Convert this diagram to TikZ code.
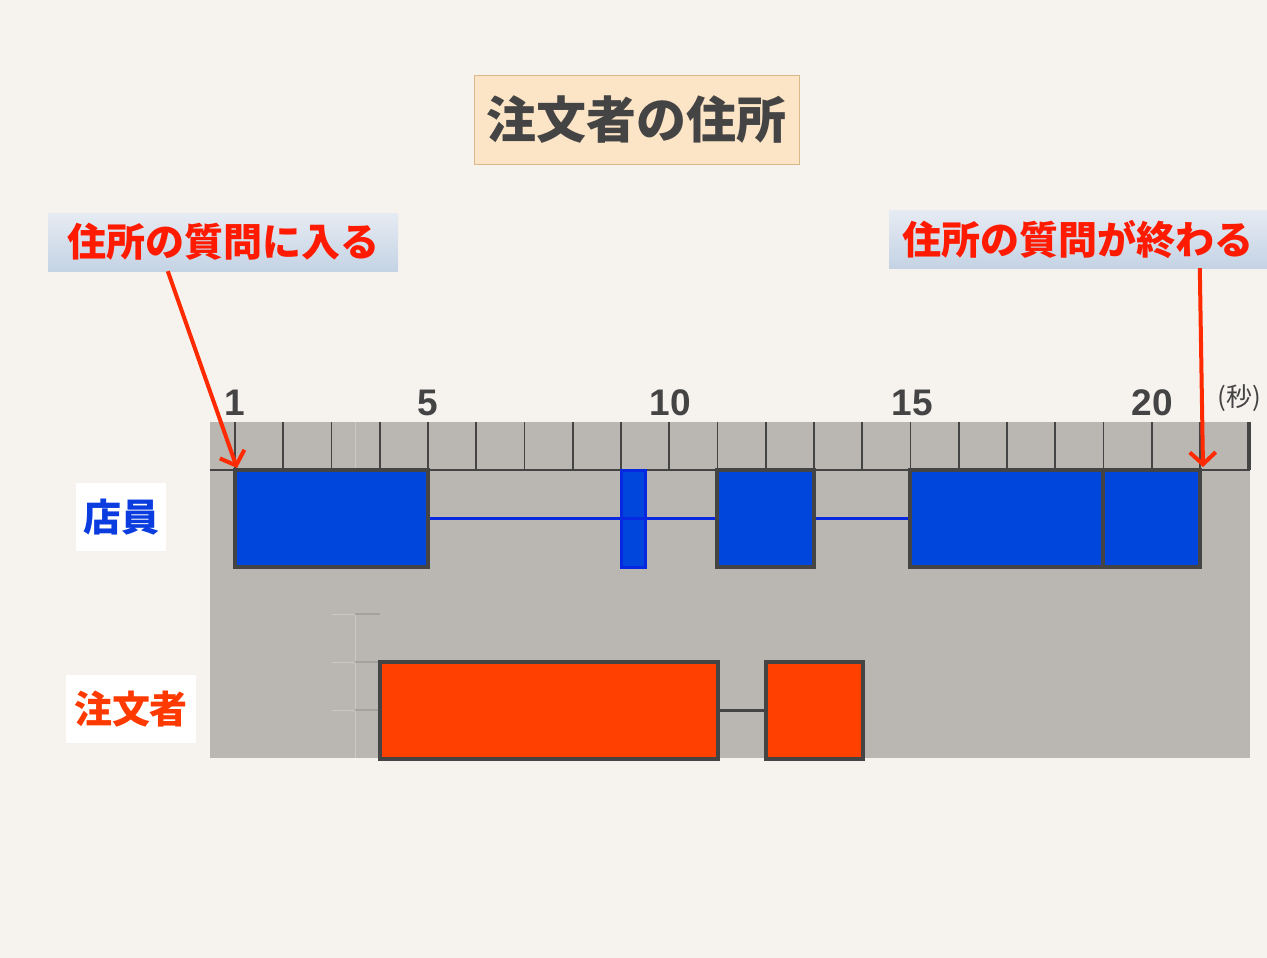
\documentclass[tikz,border=0pt]{standalone}
\usepackage{fontspec}
\newfontfamily\jp{Noto Sans CJK JP}
\newfontfamily\numfont{Liberation Sans}
\usetikzlibrary{arrows.meta}
\definecolor{bg}{HTML}{F6F3EE}
\definecolor{panel}{HTML}{BAB6B2}
\definecolor{dark}{HTML}{444444}
\definecolor{bluefill}{HTML}{0046DC}
\definecolor{blueline}{HTML}{0628E0}
\definecolor{orangefill}{HTML}{FF4000}
\definecolor{titlefill}{HTML}{FCE5C6}
\definecolor{titleedge}{HTML}{D9B98C}
\definecolor{calltop}{HTML}{E6EBF3}
\definecolor{callbot}{HTML}{C4D3E4}
\definecolor{callred}{HTML}{FF1A00}
\definecolor{arrowred}{HTML}{FF2A00}
\definecolor{staffblue}{HTML}{0A3CE0}
\definecolor{custred}{HTML}{FF3A00}
\definecolor{faintlight}{HTML}{CCC8C4}
\definecolor{faintdark}{HTML}{A4A19E}
\tikzset{
  bar/.style={draw=dark, line width=3.5pt, inner sep=0pt, minimum height=97pt},
  bluebar/.style={bar, fill=bluefill},
  thinbar/.style={bar, draw=blueline, fill=bluefill, line width=3pt},
  orangebar/.style={bar, fill=orangefill},
  blueconn/.style={draw=blueline, line width=3.6pt},
  darkconn/.style={draw=dark, line width=3.5pt},
  tick/.style={draw=dark, line width=1.6pt},
  faint/.style={draw=faintlight, line width=1pt},
  faintd/.style={draw=faintdark, line width=1.2pt},
  callout/.style={top color=calltop, bottom color=callbot, inner sep=0pt, minimum height=58pt,
    font=\jp\bfseries\fontsize{39}{44}\selectfont, text=callred},
  role/.style={fill=white, inner sep=0pt, minimum height=68pt, font=\jp\bfseries\fontsize{38}{44}\selectfont},
  num/.style={anchor=base, font=\numfont\bfseries\fontsize{37}{40}\selectfont, text=dark},
  redarrow/.style={draw=arrowred, line width=4pt, -{Straight Barb[length=12pt,width=26pt,line width=4pt]}}
}
\begin{document}
\begin{tikzpicture}[x=1pt,y=-1pt]
\fill[bg] (0,0) rectangle (1267,958);
\useasboundingbox (0,0) rectangle (1267,958);
% panel
\fill[panel] (210,422) rectangle (1250,758);
% faint guide lines
\draw[faint] (355,422) -- (355,470);
\draw[faint] (355,614) -- (355,758);
\foreach \y in {614,662,710} {
  \draw[faint] (332,\y) -- (355,\y);
  \draw[faintd] (355,\y) -- (380,\y);
}
% ruler
\foreach \k in {0,...,21} {
  \draw[tick] ({235+48.25*\k},422) -- ({235+48.25*\k},470);
}
\draw[draw=dark, line width=2.2pt] (210,470) -- (1250,470);
\draw[tick] (1250,422) -- (1250,470);
% numbers
\node[num] (n1) at (235,415) {1};
\node[num] (n5) at (428,415) {5};
\node[num] (n10) at (670,415) {10};
\node[num] (n15) at (912,415) {15};
\node[num] (n20) at (1152,415) {20};
\node[font=\jp\fontsize{26}{30}\selectfont, text=dark] (sec) at (1239,398) {(秒)};
% staff bars
\node[bluebar, minimum width=193pt] (s1) at (331.5,518.5) {};
\node[thinbar, minimum width=24pt] (s2) at (633,518.5) {};
\node[bluebar, minimum width=97pt] (s3) at (765.5,518.5) {};
\node[bluebar, minimum width=193pt] (s4) at (1006.5,518.5) {};
\node[bluebar, minimum width=97pt] (s5) at (1151.5,518.5) {};
\draw[blueconn] (s1.east) -- (s3.west);
\draw[blueconn] (s3.east) -- (s4.west);
% customer bars
\node[orangebar, minimum width=338pt] (c1) at (549,710.5) {};
\node[orangebar, minimum width=97pt] (c2) at (814.5,710.5) {};
\draw[darkconn] (c1.east) -- (c2.west);
% role labels
\node[role, minimum width=90pt, text=staffblue] (staff) at (121,517) {店員};
\node[role, minimum width=130pt, text=custred] (cust) at (131,709) {注文者};
% title
\node[fill=titlefill, draw=titleedge, line width=1pt, minimum width=325pt, minimum height=88pt, inner sep=0pt,
  font=\jp\bfseries\fontsize{50}{56}\selectfont, text=dark] (title) at (636.5,120) {注文者の住所};
% callouts
\node[callout, minimum width=350pt] (start) at (223,242) {住所の質問に入る};
\node[callout, minimum width=378pt] (finish) at (1078,239) {住所の質問が終わる};
% arrows
\coordinate (t1) at (237,468);
\coordinate (t2) at (1203,467);
\draw[redarrow] ([xshift=120pt]start.south west) -- (t1);
\draw[redarrow] ([xshift=311pt]finish.south west) -- (t2);
\end{tikzpicture}
\end{document}
